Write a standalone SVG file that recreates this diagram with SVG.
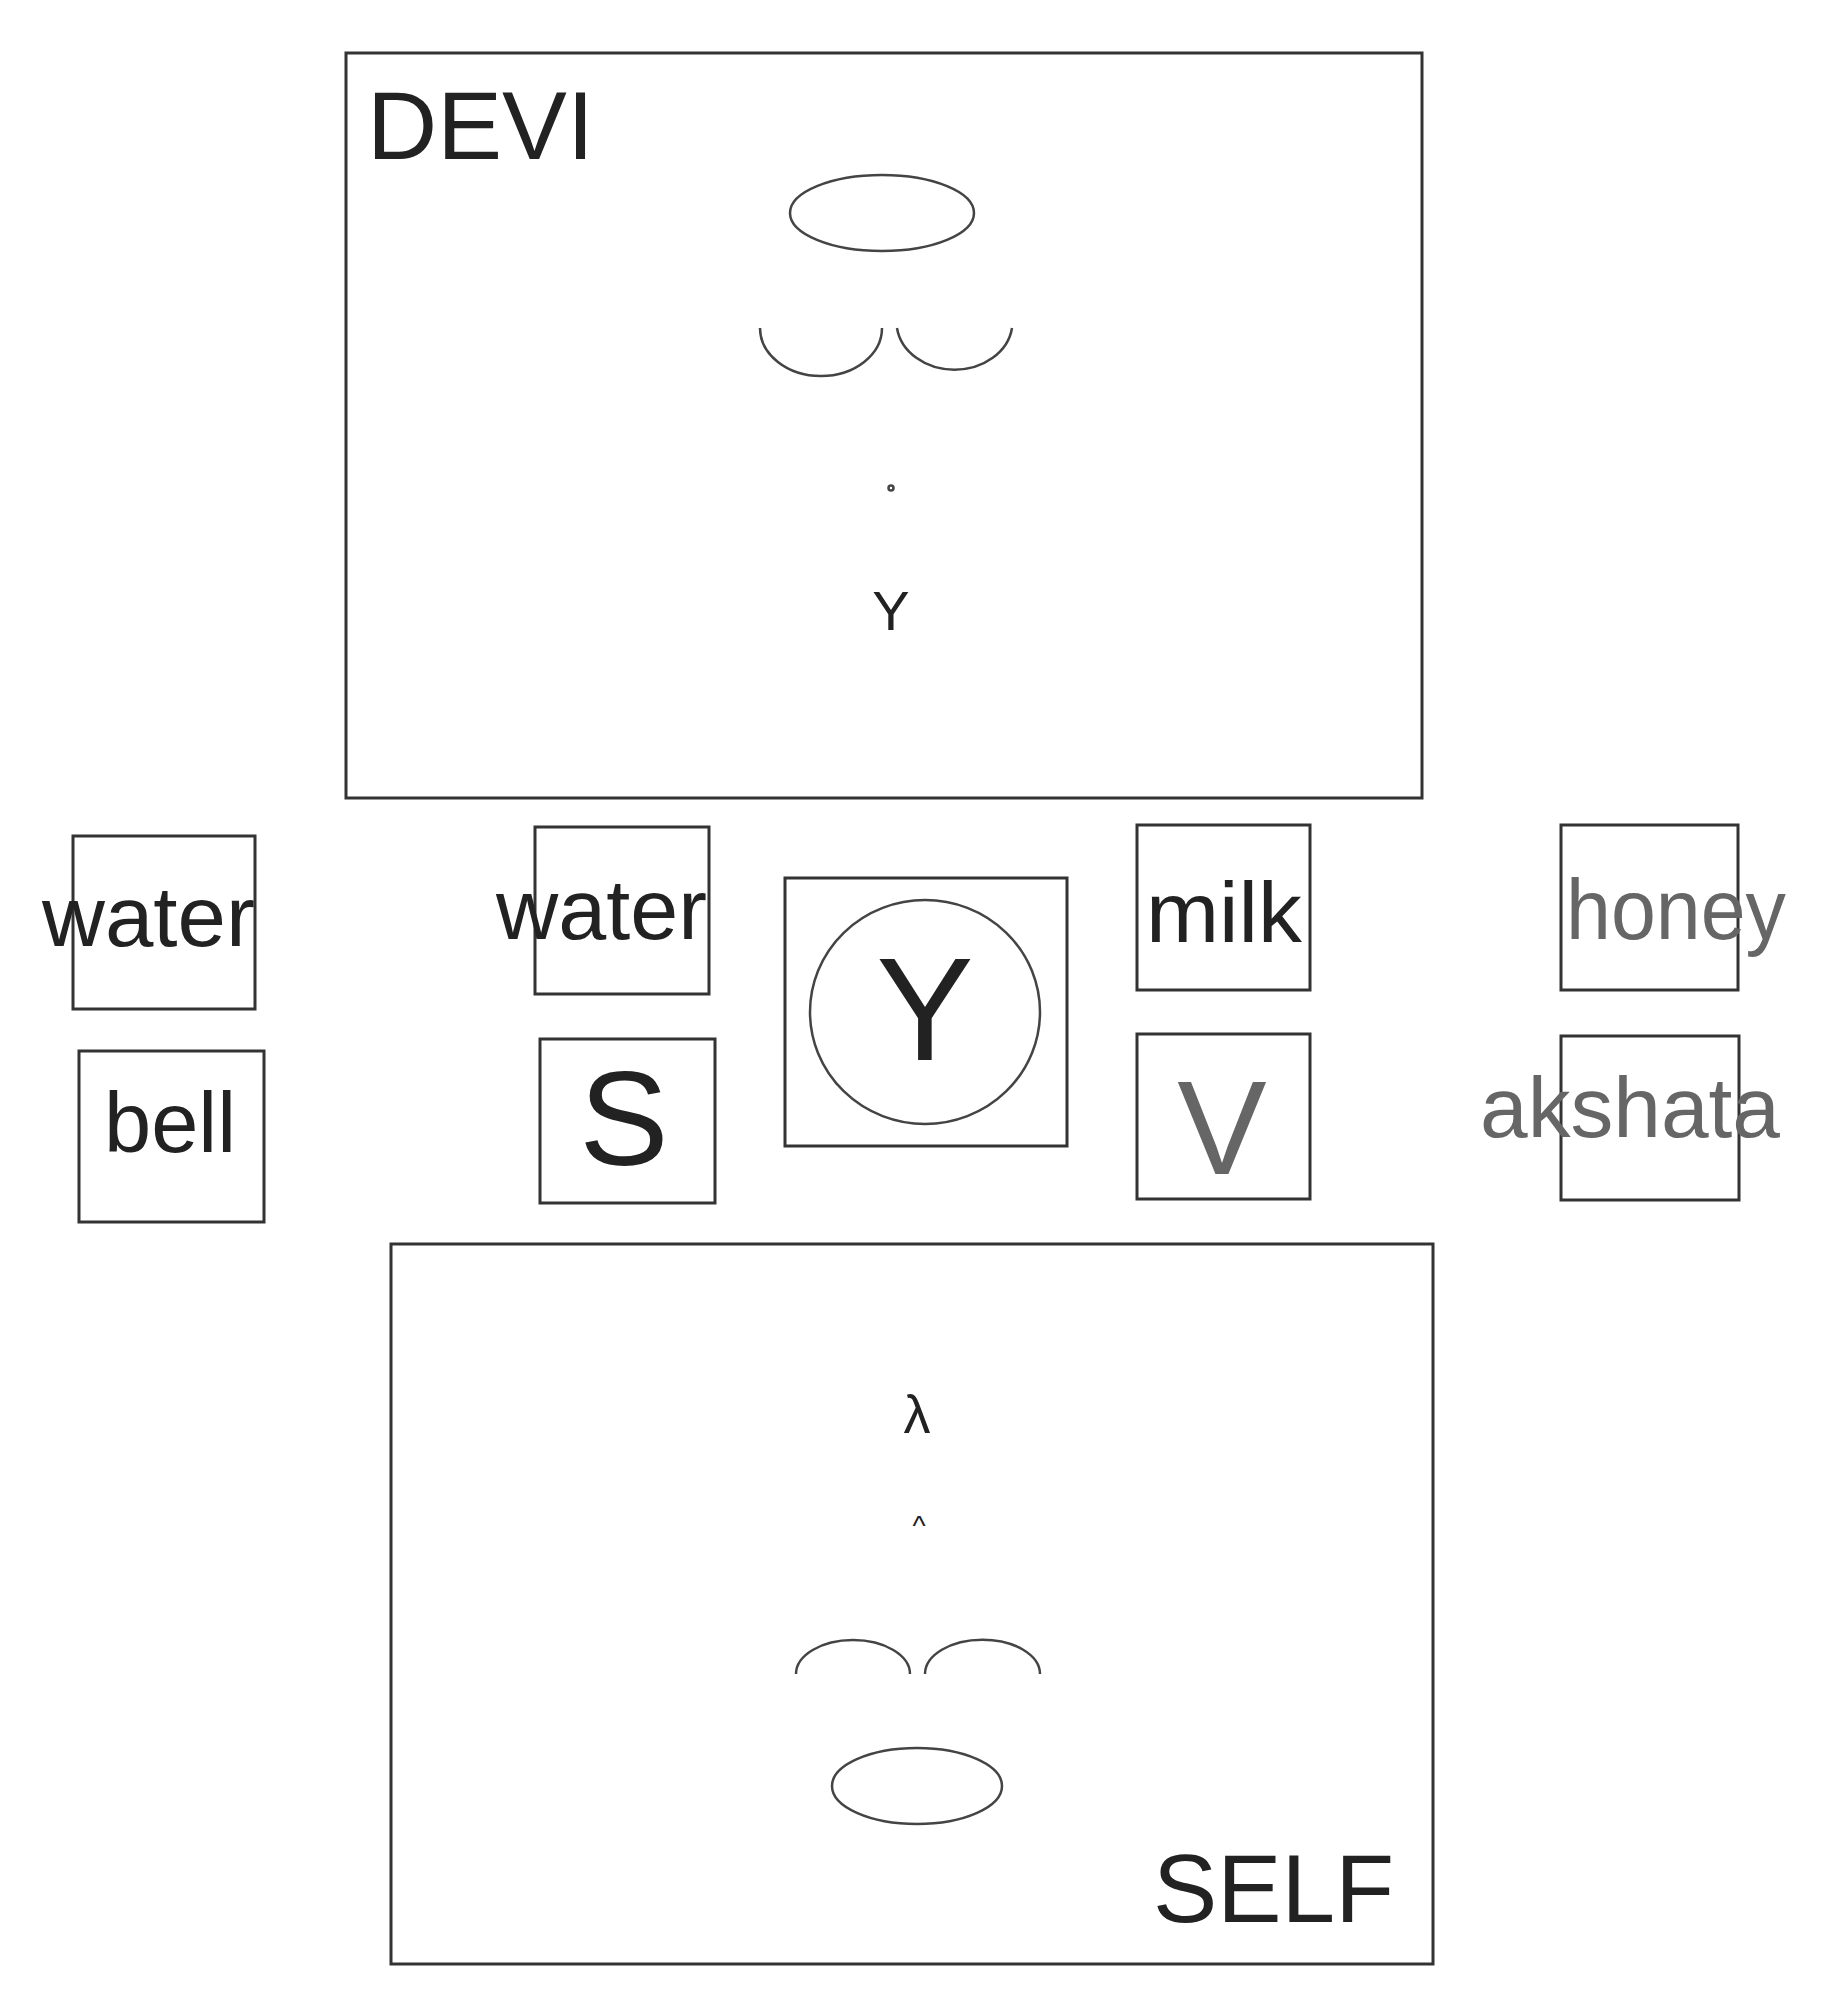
<svg xmlns="http://www.w3.org/2000/svg" width="1833" height="2004" viewBox="0 0 1833 2004">
<style>
.bx{fill:none;stroke:#333;stroke-width:3}
.ln{fill:none;stroke:#444;stroke-width:2.5}
.t{font-family:"Liberation Sans",Arial,sans-serif;fill:#222}
.g{fill:#666}
</style>
<rect width="1833" height="2004" fill="#fff"/>
<g id="devi">
<rect class="bx" x="346" y="53" width="1076" height="745"/>
<text class="t" x="367" y="159" font-size="96" textLength="227" lengthAdjust="spacingAndGlyphs">DEVI</text>
<ellipse class="ln" cx="882" cy="213" rx="92" ry="38"/>
<path class="ln" d="M760,328 A61,48 0 0 0 882,328 M897,328 A58,48 0 0 0 1012,328"/>
<circle class="ln" cx="891" cy="488" r="2.5"/>
<text class="t" x="891" y="630" font-size="56" text-anchor="middle">Y</text>
</g>
<g id="water1"><rect class="bx" x="73" y="836" width="182" height="173"/><text class="t" x="42" y="946" font-size="86" textLength="213" lengthAdjust="spacingAndGlyphs">water</text></g>
<g id="bell"><rect class="bx" x="79" y="1051" width="185" height="171"/><text class="t" x="104" y="1152" font-size="86" textLength="132" lengthAdjust="spacingAndGlyphs">bell</text></g>
<g id="water2"><rect class="bx" x="535" y="827" width="174" height="167"/><text class="t" x="496" y="939" font-size="86" textLength="211" lengthAdjust="spacingAndGlyphs">water</text></g>
<g id="s"><rect class="bx" x="540" y="1039" width="175" height="164"/><text class="t" x="624" y="1165" font-size="134" text-anchor="middle">S</text></g>
<g id="y"><rect class="bx" x="785" y="878" width="282" height="268"/><ellipse class="ln" cx="925" cy="1012" rx="115" ry="112"/><text class="t" x="925" y="1060" font-size="146" text-anchor="middle" fill="#333">Y</text></g>
<g id="milk"><rect class="bx" x="1137" y="825" width="173" height="165"/><text class="t" x="1146" y="942" font-size="86" textLength="156" lengthAdjust="spacingAndGlyphs">milk</text></g>
<g id="v"><rect class="bx" x="1137" y="1034" width="173" height="165"/><text class="t g" x="1222" y="1174" font-size="134" text-anchor="middle">V</text></g>
<g id="honey"><rect class="bx" x="1561" y="825" width="177" height="165"/><text class="t g" x="1566" y="939" font-size="86" textLength="220" lengthAdjust="spacingAndGlyphs">honey</text></g>
<g id="akshata"><rect class="bx" x="1561" y="1036" width="178" height="164"/><text class="t g" x="1480" y="1137" font-size="86" textLength="300" lengthAdjust="spacingAndGlyphs">akshata</text></g>
<g id="self">
<rect class="bx" x="391" y="1244" width="1042" height="720"/>
<text class="t" x="917" y="1433" font-size="54" text-anchor="middle">λ</text>
<text class="t" x="919" y="1535" font-size="28" text-anchor="middle">^</text>
<path class="ln" d="M796,1674 A57,34 0 0 1 910,1674 M925,1674 A57,34 0 0 1 1040,1674"/>
<ellipse class="ln" cx="917" cy="1786" rx="85" ry="38"/>
<text class="t" x="1153" y="1922" font-size="96" textLength="241" lengthAdjust="spacingAndGlyphs">SELF</text>
</g>
<g id="connectors"/>
</svg>
